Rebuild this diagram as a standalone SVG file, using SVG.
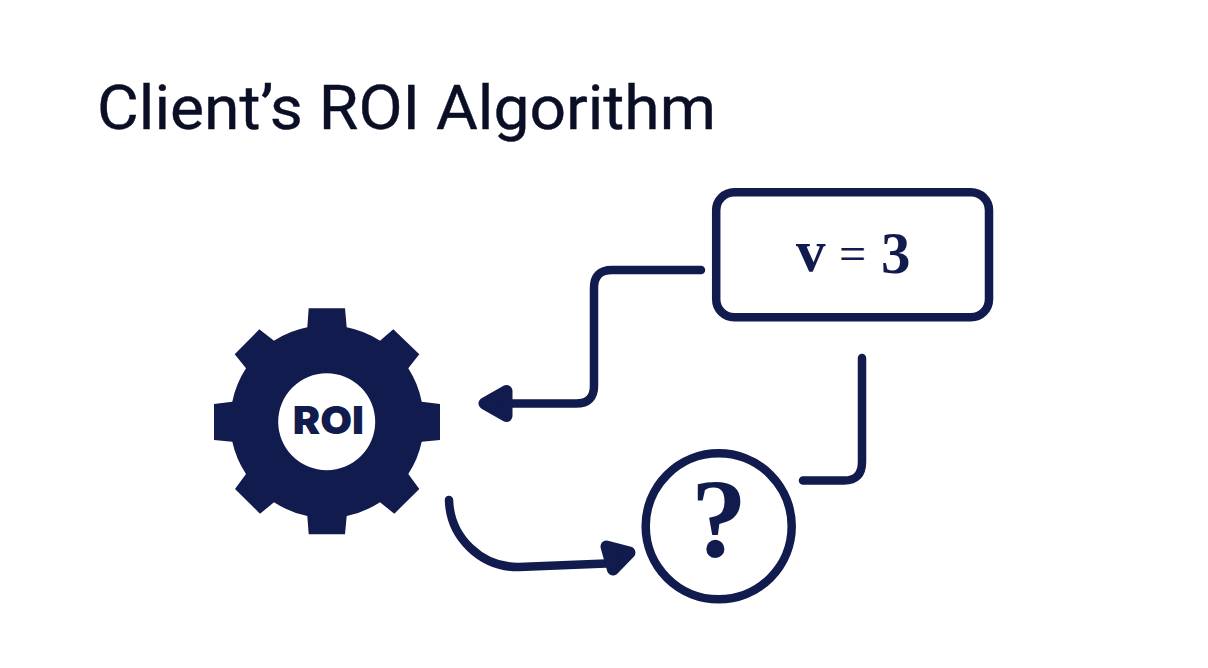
<svg xmlns="http://www.w3.org/2000/svg" width="1208" height="668" viewBox="0 0 1208 668">
<style>
.ln{fill:none;stroke:#121b4d;stroke-width:8.500;stroke-linecap:round;stroke-linejoin:round}
.hd{fill:#121b4d;stroke:#121b4d;stroke-width:12;stroke-linejoin:round}
.sf{font-family:"Liberation Serif",serif;font-weight:700;fill:#121b4d}
</style>
<rect width="1208" height="668" fill="#ffffff"/>
<text id="title" x="97" y="129" font-family="Roboto,sans-serif" font-size="62" fill="#0a0f26" stroke="#0a0f26" stroke-width="0.4" textLength="619" lengthAdjust="spacingAndGlyphs">Client’s ROI Algorithm</text>
<g id="gear">
<path fill="#121b4d" fill-rule="evenodd" d="M308.7 308.3H345L346.7 327.3A96 96 0 0 1 380 340.7L393.3 329.3L419.3 354.3L408.3 368.3A96 96 0 0 1 421.7 401.7L440 404V440L421.7 441.7A96 96 0 0 1 408.3 474L419.3 489L394.3 513.7L380 502.3A96 96 0 0 1 346.7 516L345 534.3H308.7L307.3 516A96 96 0 0 1 274 502.3L260 513.7L235 489L246 474A96 96 0 0 1 232.3 441.7L214 440V404L232.3 401.7A96 96 0 0 1 246 368.3L234.7 354.3L259.3 329.3L274 340.7A96 96 0 0 1 307.3 327.3ZM278.2 421.7A48.5 48.5 0 1 0 375.2 421.7A48.5 48.500 0 1 0 278.2 421.7Z"/>
<text x="292.700" y="434" font-family="Inter,sans-serif" font-weight="900" font-size="38.500" fill="#121b4d" textLength="71.300" lengthAdjust="spacingAndGlyphs">ROI</text>
</g>
<g id="value-box">
<rect class="ln" x="716.200" y="192.200" width="272.800" height="125" rx="18"/>
<text class="sf" y="271" font-size="59"><tspan x="796">v</tspan><tspan x="839" font-size="48" font-weight="400" dy="-1">=</tspan><tspan x="881" dy="3">3</tspan></text>
</g>
<g id="question-node">
<circle class="ln" cx="718.700" cy="526.300" r="73"/>
<text class="sf" x="719" y="556" text-anchor="middle" font-size="112">?</text>
</g>
<g id="connectors">
<path class="ln" d="M701 270H612Q594 270 594 288V386Q594 403.500 576 403.500H505"/>
<polygon class="hd" points="484.500,403.500 506.500,391 506.500,416"/>
<path class="ln" d="M862 358V462Q862 480.500 844 480.500H803"/>
<path class="ln" d="M449 500A69 69 0 0 0 519 567L606 563.500"/>
<polygon class="hd" points="629.500,552.500 606.500,546.500 613,569.500"/>
</g>
</svg>
